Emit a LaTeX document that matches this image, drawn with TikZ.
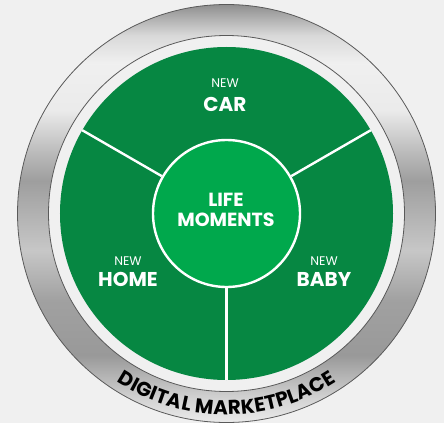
\documentclass[tikz,border=0pt]{standalone}
\usepackage{fontspec}
\setsansfont{Poppins}
\usetikzlibrary{decorations.text}

\definecolor{pagegray}{RGB}{240,240,240}
\definecolor{sectorgreen}{RGB}{6,135,66}
\definecolor{lifegreen}{RGB}{0,168,76}
\definecolor{rimline}{RGB}{90,90,90}

\pgfdeclareverticalshading{metalring}{100bp}{rgb(0bp)=(0.92,0.92,0.92); rgb(25bp)=(0.92,0.92,0.92); rgb(28bp)=(0.82,0.82,0.82); rgb(33bp)=(0.60,0.60,0.60); rgb(39.6bp)=(0.63,0.63,0.63); rgb(45.6bp)=(0.78,0.78,0.78); rgb(53.9bp)=(0.62,0.62,0.62); rgb(57.5bp)=(0.74,0.74,0.74); rgb(62.3bp)=(0.92,0.92,0.92); rgb(68bp)=(0.94,0.94,0.94); rgb(71.3bp)=(0.85,0.85,0.85); rgb(75bp)=(0.56,0.56,0.56); rgb(100bp)=(0.56,0.56,0.56)}

\newcommand{\rimfont}{\sffamily\bfseries\fontsize{20}{21}\selectfont}

\begin{document}
\begin{tikzpicture}[x = 1pt, y = 1pt, font=\sffamily]
	\tikzstyle{sectorStyle}=[shape = circle, fill = sectorgreen, minimum size = 333pt, inner sep = 0pt]
	\tikzstyle{lifeStyle}=[shape = circle, fill = lifegreen, draw = white, line width = 2.4pt, minimum size = 147pt, inner sep = 0pt]
	\tikzstyle{tagStyle}=[text = white, inner sep = 0pt, anchor = base, font = \sffamily\fontsize{12.5}{13}\selectfont]
	\tikzstyle{wordStyle}=[text = white, inner sep = 0pt, anchor = base, font = \sffamily\bfseries\fontsize{20}{22}\selectfont]
	\tikzstyle{dividerStyle}=[draw = white, line width = 2.4pt]
	\tikzstyle{rimStyle}=[draw = rimline, line width = 0.8pt]
	\fill[pagegray] (-226.5,-209.5) rectangle (217.5,213.5);
	\useasboundingbox (-226.5,-209.5) rectangle (217.5,213.5);
	\coordinate (hub) at (0,0);
	\shade[shading = metalring, even odd rule] (hub) circle[radius = 209] (hub) circle[radius = 178];
	\draw[rimStyle] (hub) circle[radius = 209];
	\draw[rimStyle] (hub) circle[radius = 178];
	\path[font = \rimfont, decorate,
		decoration = {text effects along path, text = {DIGITAL MARKETPLACE},
			text effects/.cd, text along path, fit text to path,
			characters = {text = black, font = \rimfont},
			character widths = {font = \rimfont}}]
		(hub) ++(-123.1:201) arc[start angle = -123.1, end angle = -56.8, radius = 201];
	\node[sectorStyle] (market) at (hub) {};
	\node[lifeStyle] (life) at (hub) {};
	\foreach \a in {30, 150, 270}
		\draw[dividerStyle] (life.\a) -- (market.\a);
	\node[wordStyle, font = \sffamily\bfseries\fontsize{19}{20}\selectfont] (lifeWord) at (-0.5,7.5) {LIFE};
	\node[wordStyle, font = \sffamily\bfseries\fontsize{19}{20}\selectfont] (momentsWord) at (-0.5,-13.2) {MOMENTS};
	\node[tagStyle] (carTag) at (-1.5,125.5) {NEW};
	\node[wordStyle] (carWord) at (-1.5,102) {CAR};
	\node[tagStyle] (homeTag) at (-98.5,-51.5) {NEW};
	\node[wordStyle] (homeWord) at (-98.5,-73.2) {HOME};
	\node[tagStyle] (babyTag) at (97.5,-51.5) {NEW};
	\node[wordStyle] (babyWord) at (97.5,-73.2) {BABY};
\end{tikzpicture}
\end{document}
